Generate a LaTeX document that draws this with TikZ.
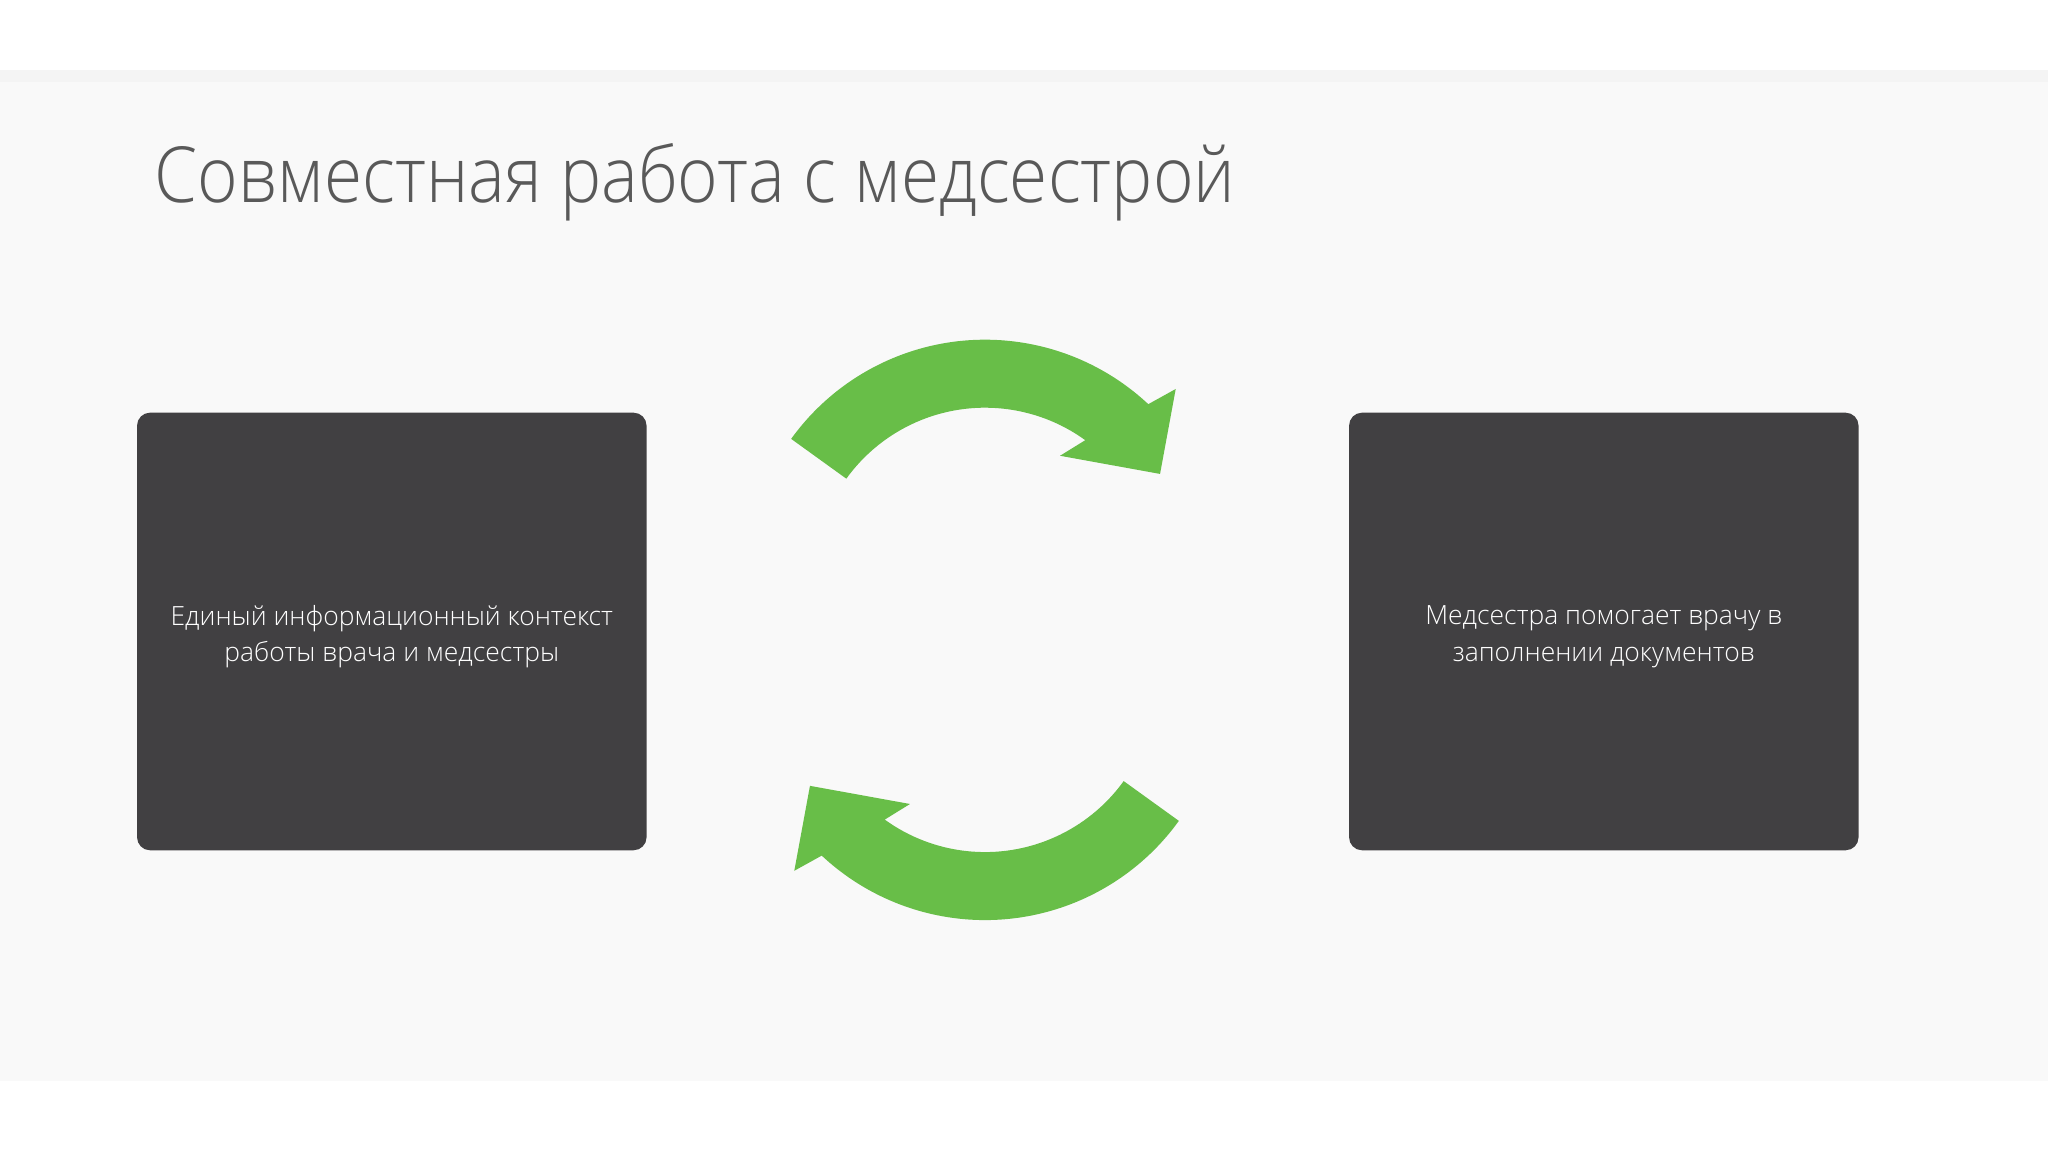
\documentclass[tikz,border=0pt]{standalone}
\usepackage{fontspec}
\IfFontExistsTF{Open Sans Light}{%
  \setmainfont{Open Sans Light}
  \newfontfamily\titlefont{Open Sans Light}[FakeStretch=0.896]
}{%
  \setmainfont{Open Sans}
  \newfontfamily\titlefont{Open Sans}[FakeStretch=0.88]
}
\definecolor{bggray}{HTML}{F9F9F9}
\definecolor{stripgray}{HTML}{F4F4F4}
\definecolor{boxgray}{HTML}{414042}
\definecolor{titlegray}{HTML}{595959}
\definecolor{arrowgreen}{RGB}{104,190,72}
\newcommand{\greenarrowpath}{%
  (144.2:239) arc[start angle=144.2, end angle=46.9, radius=239]
  -- (44.85:269) -- (30.9:204) -- (58.6:144) -- (54.1:171)
  arc[start angle=54.1, end angle=144.2, radius=171] -- cycle}
\tikzset{
  infobox/.style={fill=boxgray, rounded corners=13*0.01cm, minimum width=509.5*0.01cm,
    minimum height=437.6*0.01cm, inner sep=0pt},
  boxtext/.style={inner sep=0pt, text=white, align=center,
    font=\fontsize{7.52pt}{10.4pt}\selectfont},
  titletext/.style={anchor=base west, inner sep=0pt, text=titlegray,
    font=\titlefont\fontsize{22pt}{26pt}\selectfont}
}
\begin{document}
\begin{tikzpicture}[x=0.01cm,y=0.01cm]
\useasboundingbox (0,0) rectangle (2048,1152);
\fill[white] (0,0) rectangle (2048,1152);
\fill[bggray] (0,71) rectangle (2048,1082);
\fill[stripgray] (0,1070) rectangle (2048,1082);
\node[titletext] (title) at (154,949.6) {Совместная работа с медсестрой};
\node[infobox] (left) at (391.8,520.5) {};
\node[infobox] (right) at (1603.8,520.5) {};
\node[boxtext] (lefttext) at (391.8,515.3) {Единый информационный контекст\\работы врача и медсестры};
\node[boxtext] (righttext) at (1603.8,515.3) {Медсестра помогает врачу в\\заполнении документов};
\begin{scope}[shift={(985,573.3)}]
  \fill[arrowgreen] \greenarrowpath;
\end{scope}
\begin{scope}[shift={(985,470.9)}, rotate=180]
  \fill[arrowgreen] \greenarrowpath;
\end{scope}
\end{tikzpicture}
\end{document}
